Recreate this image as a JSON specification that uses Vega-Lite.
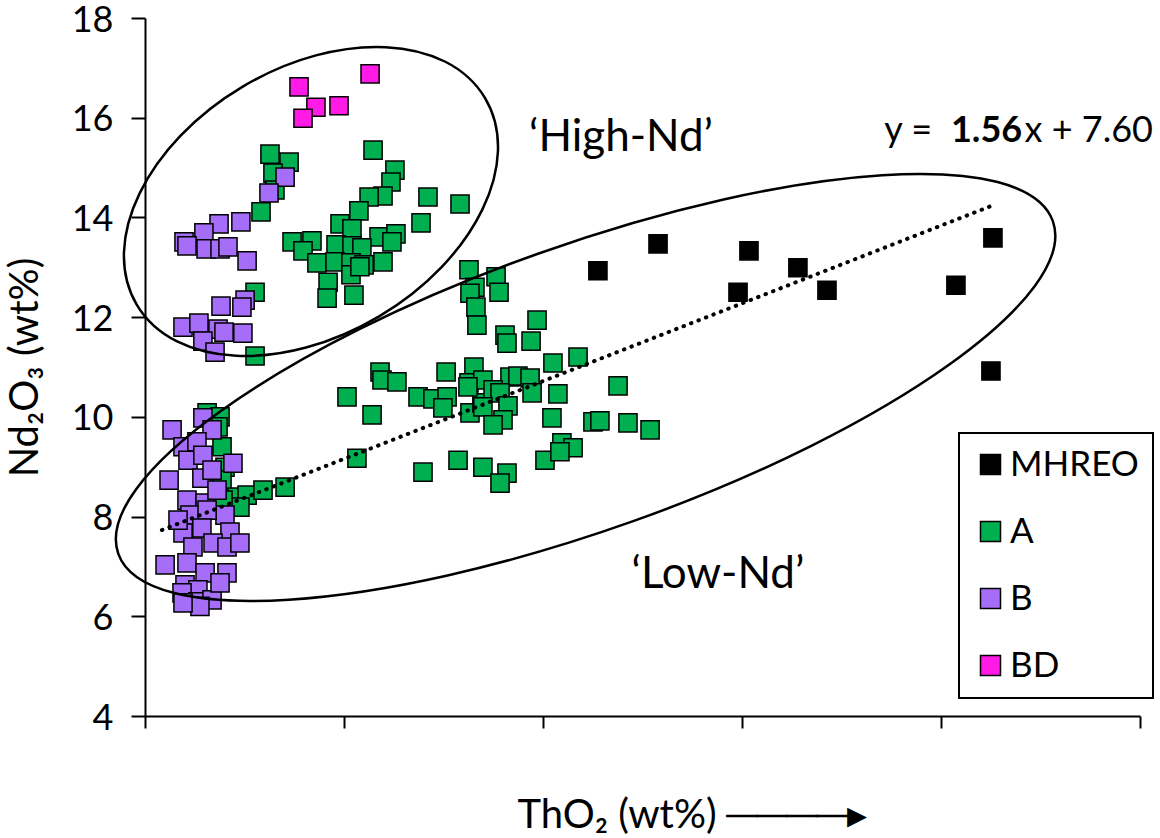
{
  "$schema": "https://vega.github.io/schema/vega-lite/v6.json",
  "width": 995,
  "height": 698,
  "autosize": "none",
  "padding": {"left": 145, "top": 18, "right": 20, "bottom": 122},
  "background": "white",
  "config": {
    "font": "Lato",
    "view": {"stroke": null},
    "axis": {"grid": false, "domainColor": "black", "domainWidth": 2, "tickColor": "black", "tickWidth": 2, "labelColor": "black", "titleColor": "black", "labelFont": "Lato", "titleFont": "Lato", "titleFontWeight": "normal"},
    "legend": {"strokeWidth": 2}
  },
  "datasets": {
    "points": [
      {"ThO2":2.276,"Nd2O3":12.93,"Type":"MHREO"},
      {"ThO2":2.578,"Nd2O3":13.47,"Type":"MHREO"},
      {"ThO2":3.035,"Nd2O3":13.33,"Type":"MHREO"},
      {"ThO2":2.980,"Nd2O3":12.50,"Type":"MHREO"},
      {"ThO2":3.281,"Nd2O3":12.99,"Type":"MHREO"},
      {"ThO2":3.427,"Nd2O3":12.54,"Type":"MHREO"},
      {"ThO2":4.261,"Nd2O3":13.59,"Type":"MHREO"},
      {"ThO2":4.075,"Nd2O3":12.64,"Type":"MHREO"},
      {"ThO2":4.251,"Nd2O3":10.92,"Type":"MHREO"},
      {"ThO2":0.628,"Nd2O3":15.27,"Type":"A"},
      {"ThO2":0.724,"Nd2O3":15.11,"Type":"A"},
      {"ThO2":0.643,"Nd2O3":14.89,"Type":"A"},
      {"ThO2":0.653,"Nd2O3":14.55,"Type":"A"},
      {"ThO2":0.583,"Nd2O3":14.11,"Type":"A"},
      {"ThO2":0.553,"Nd2O3":12.50,"Type":"A"},
      {"ThO2":0.553,"Nd2O3":11.22,"Type":"A"},
      {"ThO2":1.146,"Nd2O3":15.35,"Type":"A"},
      {"ThO2":1.256,"Nd2O3":14.95,"Type":"A"},
      {"ThO2":1.236,"Nd2O3":14.71,"Type":"A"},
      {"ThO2":1.196,"Nd2O3":14.43,"Type":"A"},
      {"ThO2":1.126,"Nd2O3":14.41,"Type":"A"},
      {"ThO2":1.422,"Nd2O3":14.41,"Type":"A"},
      {"ThO2":1.583,"Nd2O3":14.27,"Type":"A"},
      {"ThO2":1.075,"Nd2O3":14.13,"Type":"A"},
      {"ThO2":1.387,"Nd2O3":13.89,"Type":"A"},
      {"ThO2":0.980,"Nd2O3":13.87,"Type":"A"},
      {"ThO2":1.040,"Nd2O3":13.77,"Type":"A"},
      {"ThO2":0.739,"Nd2O3":13.51,"Type":"A"},
      {"ThO2":0.839,"Nd2O3":13.53,"Type":"A"},
      {"ThO2":0.794,"Nd2O3":13.33,"Type":"A"},
      {"ThO2":1.176,"Nd2O3":13.61,"Type":"A"},
      {"ThO2":1.261,"Nd2O3":13.67,"Type":"A"},
      {"ThO2":1.241,"Nd2O3":13.51,"Type":"A"},
      {"ThO2":0.960,"Nd2O3":13.45,"Type":"A"},
      {"ThO2":1.040,"Nd2O3":13.43,"Type":"A"},
      {"ThO2":1.090,"Nd2O3":13.39,"Type":"A"},
      {"ThO2":0.864,"Nd2O3":13.09,"Type":"A"},
      {"ThO2":0.955,"Nd2O3":13.11,"Type":"A"},
      {"ThO2":1.035,"Nd2O3":13.09,"Type":"A"},
      {"ThO2":1.101,"Nd2O3":13.05,"Type":"A"},
      {"ThO2":1.196,"Nd2O3":13.11,"Type":"A"},
      {"ThO2":0.920,"Nd2O3":12.70,"Type":"A"},
      {"ThO2":1.035,"Nd2O3":12.85,"Type":"A"},
      {"ThO2":1.080,"Nd2O3":13.01,"Type":"A"},
      {"ThO2":0.915,"Nd2O3":12.38,"Type":"A"},
      {"ThO2":1.050,"Nd2O3":12.44,"Type":"A"},
      {"ThO2":1.628,"Nd2O3":12.95,"Type":"A"},
      {"ThO2":1.658,"Nd2O3":12.60,"Type":"A"},
      {"ThO2":1.633,"Nd2O3":12.48,"Type":"A"},
      {"ThO2":1.663,"Nd2O3":12.20,"Type":"A"},
      {"ThO2":1.668,"Nd2O3":11.84,"Type":"A"},
      {"ThO2":1.764,"Nd2O3":12.81,"Type":"A"},
      {"ThO2":1.779,"Nd2O3":12.50,"Type":"A"},
      {"ThO2":1.181,"Nd2O3":10.90,"Type":"A"},
      {"ThO2":1.191,"Nd2O3":10.74,"Type":"A"},
      {"ThO2":1.266,"Nd2O3":10.70,"Type":"A"},
      {"ThO2":1.015,"Nd2O3":10.40,"Type":"A"},
      {"ThO2":1.141,"Nd2O3":10.04,"Type":"A"},
      {"ThO2":1.513,"Nd2O3":10.90,"Type":"A"},
      {"ThO2":1.653,"Nd2O3":11.00,"Type":"A"},
      {"ThO2":1.628,"Nd2O3":10.68,"Type":"A"},
      {"ThO2":1.698,"Nd2O3":10.74,"Type":"A"},
      {"ThO2":1.372,"Nd2O3":10.40,"Type":"A"},
      {"ThO2":1.447,"Nd2O3":10.36,"Type":"A"},
      {"ThO2":1.518,"Nd2O3":10.40,"Type":"A"},
      {"ThO2":1.497,"Nd2O3":10.18,"Type":"A"},
      {"ThO2":1.633,"Nd2O3":10.08,"Type":"A"},
      {"ThO2":1.693,"Nd2O3":10.28,"Type":"A"},
      {"ThO2":1.065,"Nd2O3":9.17,"Type":"A"},
      {"ThO2":1.397,"Nd2O3":8.89,"Type":"A"},
      {"ThO2":1.573,"Nd2O3":9.13,"Type":"A"},
      {"ThO2":1.698,"Nd2O3":8.99,"Type":"A"},
      {"ThO2":0.704,"Nd2O3":8.59,"Type":"A"},
      {"ThO2":1.970,"Nd2O3":11.94,"Type":"A"},
      {"ThO2":1.809,"Nd2O3":11.64,"Type":"A"},
      {"ThO2":1.819,"Nd2O3":11.48,"Type":"A"},
      {"ThO2":1.940,"Nd2O3":11.52,"Type":"A"},
      {"ThO2":2.050,"Nd2O3":11.08,"Type":"A"},
      {"ThO2":2.176,"Nd2O3":11.20,"Type":"A"},
      {"ThO2":2.377,"Nd2O3":10.62,"Type":"A"},
      {"ThO2":1.834,"Nd2O3":10.80,"Type":"A"},
      {"ThO2":1.874,"Nd2O3":10.82,"Type":"A"},
      {"ThO2":1.935,"Nd2O3":10.78,"Type":"A"},
      {"ThO2":1.945,"Nd2O3":10.48,"Type":"A"},
      {"ThO2":2.075,"Nd2O3":10.46,"Type":"A"},
      {"ThO2":1.623,"Nd2O3":10.60,"Type":"A"},
      {"ThO2":1.749,"Nd2O3":10.54,"Type":"A"},
      {"ThO2":1.784,"Nd2O3":10.48,"Type":"A"},
      {"ThO2":1.824,"Nd2O3":10.22,"Type":"A"},
      {"ThO2":1.698,"Nd2O3":10.20,"Type":"A"},
      {"ThO2":1.799,"Nd2O3":9.94,"Type":"A"},
      {"ThO2":1.749,"Nd2O3":9.84,"Type":"A"},
      {"ThO2":2.045,"Nd2O3":9.98,"Type":"A"},
      {"ThO2":2.251,"Nd2O3":9.90,"Type":"A"},
      {"ThO2":2.286,"Nd2O3":9.92,"Type":"A"},
      {"ThO2":2.427,"Nd2O3":9.88,"Type":"A"},
      {"ThO2":2.538,"Nd2O3":9.74,"Type":"A"},
      {"ThO2":2.095,"Nd2O3":9.48,"Type":"A"},
      {"ThO2":2.151,"Nd2O3":9.38,"Type":"A"},
      {"ThO2":2.010,"Nd2O3":9.13,"Type":"A"},
      {"ThO2":2.085,"Nd2O3":9.30,"Type":"A"},
      {"ThO2":1.819,"Nd2O3":8.87,"Type":"A"},
      {"ThO2":1.784,"Nd2O3":8.67,"Type":"A"},
      {"ThO2":0.312,"Nd2O3":10.08,"Type":"A"},
      {"ThO2":0.377,"Nd2O3":10.00,"Type":"A"},
      {"ThO2":0.387,"Nd2O3":9.40,"Type":"A"},
      {"ThO2":0.402,"Nd2O3":8.99,"Type":"A"},
      {"ThO2":0.387,"Nd2O3":8.73,"Type":"A"},
      {"ThO2":0.462,"Nd2O3":8.39,"Type":"A"},
      {"ThO2":0.513,"Nd2O3":8.43,"Type":"A"},
      {"ThO2":0.593,"Nd2O3":8.53,"Type":"A"},
      {"ThO2":0.477,"Nd2O3":8.19,"Type":"A"},
      {"ThO2":0.392,"Nd2O3":8.33,"Type":"A"},
      {"ThO2":0.367,"Nd2O3":9.80,"Type":"A"},
      {"ThO2":0.704,"Nd2O3":14.81,"Type":"B"},
      {"ThO2":0.623,"Nd2O3":14.49,"Type":"B"},
      {"ThO2":0.372,"Nd2O3":13.87,"Type":"B"},
      {"ThO2":0.482,"Nd2O3":13.91,"Type":"B"},
      {"ThO2":0.296,"Nd2O3":13.69,"Type":"B"},
      {"ThO2":0.196,"Nd2O3":13.51,"Type":"B"},
      {"ThO2":0.211,"Nd2O3":13.43,"Type":"B"},
      {"ThO2":0.307,"Nd2O3":13.37,"Type":"B"},
      {"ThO2":0.377,"Nd2O3":13.37,"Type":"B"},
      {"ThO2":0.417,"Nd2O3":13.41,"Type":"B"},
      {"ThO2":0.513,"Nd2O3":13.13,"Type":"B"},
      {"ThO2":0.503,"Nd2O3":12.34,"Type":"B"},
      {"ThO2":0.382,"Nd2O3":12.22,"Type":"B"},
      {"ThO2":0.487,"Nd2O3":12.20,"Type":"B"},
      {"ThO2":0.191,"Nd2O3":11.80,"Type":"B"},
      {"ThO2":0.271,"Nd2O3":11.88,"Type":"B"},
      {"ThO2":0.367,"Nd2O3":11.76,"Type":"B"},
      {"ThO2":0.397,"Nd2O3":11.70,"Type":"B"},
      {"ThO2":0.492,"Nd2O3":11.68,"Type":"B"},
      {"ThO2":0.291,"Nd2O3":11.52,"Type":"B"},
      {"ThO2":0.352,"Nd2O3":11.30,"Type":"B"},
      {"ThO2":0.291,"Nd2O3":9.98,"Type":"B"},
      {"ThO2":0.136,"Nd2O3":9.74,"Type":"B"},
      {"ThO2":0.337,"Nd2O3":9.74,"Type":"B"},
      {"ThO2":0.191,"Nd2O3":9.40,"Type":"B"},
      {"ThO2":0.261,"Nd2O3":9.50,"Type":"B"},
      {"ThO2":0.216,"Nd2O3":9.13,"Type":"B"},
      {"ThO2":0.291,"Nd2O3":9.23,"Type":"B"},
      {"ThO2":0.442,"Nd2O3":9.07,"Type":"B"},
      {"ThO2":0.121,"Nd2O3":8.73,"Type":"B"},
      {"ThO2":0.286,"Nd2O3":8.77,"Type":"B"},
      {"ThO2":0.337,"Nd2O3":8.93,"Type":"B"},
      {"ThO2":0.211,"Nd2O3":8.33,"Type":"B"},
      {"ThO2":0.302,"Nd2O3":8.27,"Type":"B"},
      {"ThO2":0.226,"Nd2O3":8.03,"Type":"B"},
      {"ThO2":0.402,"Nd2O3":8.03,"Type":"B"},
      {"ThO2":0.312,"Nd2O3":8.13,"Type":"B"},
      {"ThO2":0.191,"Nd2O3":7.67,"Type":"B"},
      {"ThO2":0.286,"Nd2O3":7.77,"Type":"B"},
      {"ThO2":0.427,"Nd2O3":7.69,"Type":"B"},
      {"ThO2":0.241,"Nd2O3":7.39,"Type":"B"},
      {"ThO2":0.342,"Nd2O3":7.47,"Type":"B"},
      {"ThO2":0.412,"Nd2O3":7.39,"Type":"B"},
      {"ThO2":0.477,"Nd2O3":7.47,"Type":"B"},
      {"ThO2":0.101,"Nd2O3":7.03,"Type":"B"},
      {"ThO2":0.211,"Nd2O3":7.07,"Type":"B"},
      {"ThO2":0.302,"Nd2O3":6.87,"Type":"B"},
      {"ThO2":0.412,"Nd2O3":6.87,"Type":"B"},
      {"ThO2":0.201,"Nd2O3":6.63,"Type":"B"},
      {"ThO2":0.266,"Nd2O3":6.53,"Type":"B"},
      {"ThO2":0.186,"Nd2O3":6.47,"Type":"B"},
      {"ThO2":0.266,"Nd2O3":6.29,"Type":"B"},
      {"ThO2":0.337,"Nd2O3":6.33,"Type":"B"},
      {"ThO2":0.276,"Nd2O3":6.20,"Type":"B"},
      {"ThO2":0.191,"Nd2O3":6.27,"Type":"B"},
      {"ThO2":0.362,"Nd2O3":8.53,"Type":"B"},
      {"ThO2":0.166,"Nd2O3":7.93,"Type":"B"},
      {"ThO2":0.377,"Nd2O3":6.67,"Type":"B"},
      {"ThO2":0.774,"Nd2O3":16.62,"Type":"BD"},
      {"ThO2":0.859,"Nd2O3":16.21,"Type":"BD"},
      {"ThO2":0.794,"Nd2O3":15.99,"Type":"BD"},
      {"ThO2":0.975,"Nd2O3":16.24,"Type":"BD"},
      {"ThO2":1.131,"Nd2O3":16.88,"Type":"BD"}
    ],
    "trend": [
      {"ThO2":0.085,"Nd2O3":7.73},
      {"ThO2":4.246,"Nd2O3":14.22}
    ]
  },
  "layer": [
    {
      "data": {"name": "points"},
      "mark": {"type": "point", "shape": "square", "filled": true, "size": 330, "stroke": "black", "strokeWidth": 1.5, "opacity": 1},
      "encoding": {
        "x": {"field": "ThO2", "type": "quantitative", "scale": {"domain": [0, 5], "nice": false, "zero": false},
          "axis": {"values": [0, 1, 2, 3, 4, 5], "labels": false, "tickSize": 12, "title": "ThO₂ (wt%)   ────▸", "titleFontSize": 40, "titleAlign": "left", "titleBaseline": "alphabetic", "titleX": 372, "titleY": 111}},
        "y": {"field": "Nd2O3", "type": "quantitative", "scale": {"domain": [4, 18], "nice": false, "zero": false},
          "axis": {"values": [4, 6, 8, 10, 12, 14, 16, 18], "tickSize": 14, "labelFontSize": 36, "labelPadding": 18, "labelBaseline": "alphabetic", "labelOffset": 13, "title": "Nd₂O₃ (wt%)", "titleFontSize": 40, "titleAngle": -90, "titleAlign": "center", "titleBaseline": "middle", "titleX": -120, "titleY": 349}},
        "color": {"field": "Type", "type": "nominal", "sort": null,
          "scale": {"domain": ["MHREO", "A", "B", "BD"], "range": ["#000000", "#00B050", "#A66EF8", "#FF1AE5"]},
          "legend": {"orient": "none", "legendX": 814, "legendY": 415, "title": null, "strokeColor": "black", "padding": 14, "symbolType": "square", "symbolSize": 400, "symbolStrokeColor": "black", "symbolStrokeWidth": 1.5, "symbolOpacity": 1, "labelFontSize": 35, "labelFont": "Lato", "labelColor": "black", "rowPadding": 31, "labelOffset": 2, "labelLimit": 300}}
      }
    },
    {
      "data": {"name": "trend"},
      "mark": {"type": "line", "color": "black", "strokeWidth": 4, "strokeDash": [0.5, 7.5], "strokeCap": "round"},
      "encoding": {"x": {"field": "ThO2", "type": "quantitative"}, "y": {"field": "Nd2O3", "type": "quantitative"}}
    },
    {
      "data": {"values": [{"ThO2": 2.214, "Nd2O3": 10.59}]},
      "mark": {"type": "point", "shape": "M1,0C1,0.1581,0.5523,0.2862,0,0.2862C-0.5523,0.2862,-1,0.1581,-1,0C-1,-0.1581,-0.5523,-0.2862,0,-0.2862C0.5523,-0.2862,1,-0.1581,1,0Z", "size": 984064, "angle": -19.6, "filled": false, "stroke": "black", "strokeWidth": 2.5, "opacity": 1},
      "encoding": {"x": {"field": "ThO2", "type": "quantitative"}, "y": {"field": "Nd2O3", "type": "quantitative"}}
    },
    {
      "data": {"values": [{"ThO2": 0.834, "Nd2O3": 14.32}]},
      "mark": {"type": "point", "shape": "M1,0C1,0.3644,0.5523,0.6598,0,0.6598C-0.5523,0.6598,-1,0.3644,-1,0C-1,-0.3644,-0.5523,-0.6598,0,-0.6598C0.5523,-0.6598,1,-0.3644,1,0Z", "size": 164025, "angle": -30.7, "filled": false, "stroke": "black", "strokeWidth": 2.5, "opacity": 1},
      "encoding": {"x": {"field": "ThO2", "type": "quantitative"}, "y": {"field": "Nd2O3", "type": "quantitative"}}
    },
    {
      "data": {"values": [{"ThO2": 2.392, "Nd2O3": 15.59, "label": "‘High-Nd’"}, {"ThO2": 2.879, "Nd2O3": 6.83, "label": "‘Low-Nd’"}]},
      "mark": {"type": "text", "fontSize": 44, "font": "Lato", "align": "center", "baseline": "middle", "color": "black"},
      "encoding": {"x": {"field": "ThO2", "type": "quantitative"}, "y": {"field": "Nd2O3", "type": "quantitative"}, "text": {"field": "label"}}
    },
    {
      "data": {"values": [{"ThO2": 3.955, "Nd2O3": 15.51, "label": "y ="}]},
      "mark": {"type": "text", "fontSize": 36, "font": "Lato", "align": "right", "baseline": "alphabetic", "color": "black"},
      "encoding": {"x": {"field": "ThO2", "type": "quantitative"}, "y": {"field": "Nd2O3", "type": "quantitative"}, "text": {"field": "label"}}
    },
    {
      "data": {"values": [{"ThO2": 4.05, "Nd2O3": 15.51, "label": "1.56"}]},
      "mark": {"type": "text", "fontSize": 36, "font": "Lato", "fontWeight": "bold", "align": "left", "baseline": "alphabetic", "color": "black"},
      "encoding": {"x": {"field": "ThO2", "type": "quantitative"}, "y": {"field": "Nd2O3", "type": "quantitative"}, "text": {"field": "label"}}
    },
    {
      "data": {"values": [{"ThO2": 5.065, "Nd2O3": 15.51, "label": "x + 7.60"}]},
      "mark": {"type": "text", "fontSize": 36, "font": "Lato", "align": "right", "baseline": "alphabetic", "color": "black"},
      "encoding": {"x": {"field": "ThO2", "type": "quantitative"}, "y": {"field": "Nd2O3", "type": "quantitative"}, "text": {"field": "label"}}
    }
  ]
}
